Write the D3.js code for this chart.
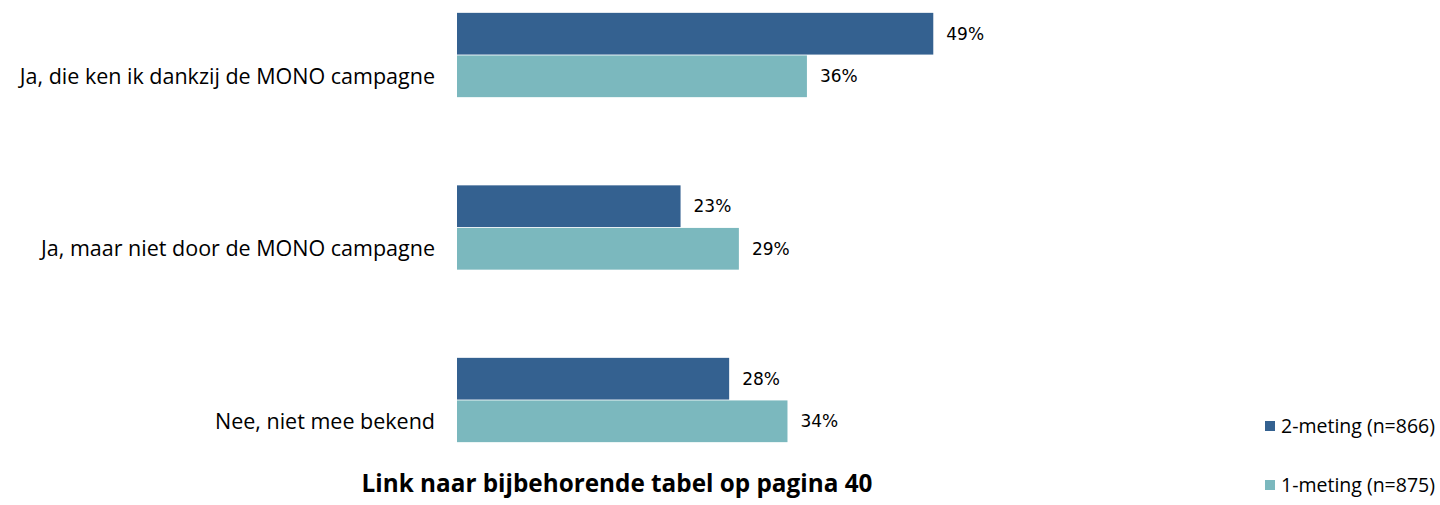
<!DOCTYPE html>
<html>
<head>
<meta charset="utf-8">
<script src="https://cdn.jsdelivr.net/npm/d3@7"></script>
<style>
  body { margin: 0; background: #fff; }
  svg { display: block; }
</style>
</head>
<body>
<div class="chart"></div>
<script>
var categories = ['Ja, die ken ik dankzij de MONO campagne', 'Ja, maar niet door de MONO campagne', 'Nee, niet mee bekend'];
var seriesNames = ['2-meting (n=866)', '1-meting (n=875)'];
var meting2 = [49, 23, 28];
var meting1 = [36, 29, 34];
var colors = ['#346190', '#7bb8be'];
var title = 'Link naar bijbehorende tabel op pagina 40';

var svgWidth = 1440;
var svgHeight = 505;

var svg = d3.select('.chart')
  .append('svg')
  .attr('width', svgWidth)
  .attr('height', svgHeight);

var data = categories.map(function(c, i) {
  return { cat: c, values: [meting2[i], meting1[i]] };
});

var x = d3.scaleLinear()
  .domain([0, 50])
  .range([457, 943]);

var y0 = d3.scaleBand()
  .domain(categories)
  .range([12, 443])
  .paddingInner(0.5014)
  .paddingOuter(0);

var y1 = d3.scaleBand()
  .domain([0, 1])
  .range([0, y0.bandwidth()])
  .padding(0.02);

var groups = svg.selectAll('g.cat')
  .data(data)
  .enter()
  .append('g')
  .attr('class', 'cat')
  .attr('transform', d => `translate(0, ${y0(d.cat)})`);

groups.selectAll('rect')
  .data(d => d.values)
  .enter()
  .append('rect')
  .attr('x', x(0))
  .attr('y', (d, i) => y1(i))
  .attr('width', d => x(d) - x(0))
  .attr('height', y1.bandwidth())
  .attr('fill', (d, i) => colors[i]);

groups.selectAll('text.val')
  .data(d => d.values)
  .enter()
  .append('text')
  .attr('class', 'val')
  .attr('x', d => x(d) + 13)
  .attr('y', (d, i) => y1(i) + y1.bandwidth() / 2)
  .attr('dy', '0.35em')
  .style('font-family', 'DejaVu Sans')
  .style('font-size', '17px')
  .attr('fill', '#000')
  .text(d => d + '%');

// category labels sit beside the second bar
groups.append('text')
  .attr('x', 435)
  .attr('y', y1(1) + y1.bandwidth() / 2)
  .attr('dy', '0.35em')
  .attr('text-anchor', 'end')
  .style('font-family', 'Open Sans')
  .style('font-size', '21.5px')
  .attr('fill', '#000')
  .text(d => d.cat);

// legend
var legend = svg.selectAll('g.legend')
  .data(seriesNames)
  .enter()
  .append('g')
  .attr('class', 'legend')
  .attr('transform', (d, i) => `translate(1265, ${426 + i * 59})`);

legend.append('rect')
  .attr('x', 0)
  .attr('y', -5)
  .attr('width', 10)
  .attr('height', 10)
  .attr('fill', (d, i) => colors[i]);

legend.append('text')
  .attr('x', 16)
  .attr('y', 0)
  .attr('dy', '0.35em')
  .style('font-family', 'Open Sans')
  .style('font-size', '19.5px')
  .attr('fill', '#000')
  .text(d => d);

svg.append('text')
  .attr('x', 617)
  .attr('y', 492)
  .attr('text-anchor', 'middle')
  .style('font-family', 'Open Sans')
  .style('font-weight', 'bold')
  .style('font-size', '24.3px')
  .attr('fill', '#000')
  .text(title);
</script>
</body>
</html>
